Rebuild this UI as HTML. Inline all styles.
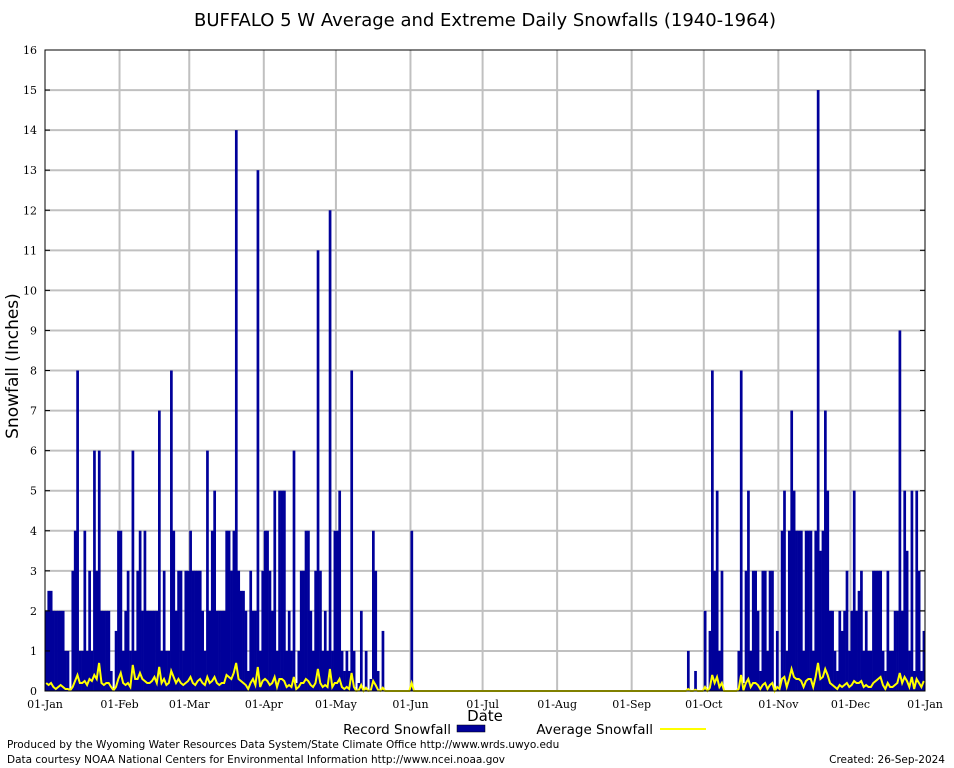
<!DOCTYPE html>
<html><head><meta charset="utf-8">
<style>
body{margin:0;background:#fff;}
svg{display:block;font-family:"DejaVu Sans","Liberation Sans",sans-serif;}
.tk{font-family:"DejaVu Serif","Liberation Serif",serif;}
</style></head>
<body>
<svg id="chart" width="954" height="768" viewBox="0 0 954 768" xmlns="http://www.w3.org/2000/svg">
<rect width="954" height="768" fill="#fff"/>
<text x="485" y="26" font-size="18" text-anchor="middle">BUFFALO 5 W Average and Extreme Daily Snowfalls (1940-1964)</text>
<g id="grid"></g>
<g id="bars"></g>
<g id="avgline"></g>
<rect x="45" y="50" width="880" height="641" fill="none" stroke="#000" stroke-width="1"/>
<g id="ticks"></g>
<text transform="translate(18,366) rotate(-90)" font-size="17" text-anchor="middle">Snowfall (Inches)</text>
<text x="485" y="721" font-size="15" text-anchor="middle">Date</text>
<g>
<text x="451" y="734" font-size="13.5" text-anchor="end">Record Snowfall</text>
<rect x="457" y="725" width="28" height="7" fill="#00009a" stroke="#000" stroke-width="0.5"/>
<text x="653" y="734" font-size="13.5" text-anchor="end">Average Snowfall</text>
<line x1="660" y1="729" x2="706" y2="729" stroke="#ffff00" stroke-width="2"/>
</g>
<text x="7" y="748" font-size="10.5">Produced by the Wyoming Water Resources Data System/State Climate Office http://www.wrds.uwyo.edu</text>
<text x="7" y="763" font-size="10.5">Data courtesy NOAA National Centers for Environmental Information http://www.ncei.noaa.gov</text>
<text x="945" y="763" font-size="10.5" text-anchor="end">Created:  26-Sep-2024</text>
</svg>
<script>
const monthLabels=["01-Jan","01-Feb","01-Mar","01-Apr","01-May","01-Jun","01-Jul","01-Aug","01-Sep","01-Oct","01-Nov","01-Dec","01-Jan"];
const monthStarts=[0,31,60,91,121,152,182,213,244,274,305,335,366];
const yTicks=[0,1,2,3,4,5,6,7,8,9,10,11,12,13,14,15,16];
const recordSnow=[
2,2.5,2.5,2,2,2,2,2,1,1,0,3,4,8,1,1,4,1,3,1,6,3,6,2,2,2,2,0.5,0,1.5,4,
4,1,2,3,1,6,1,3,4,2,4,2,2,2,2,2,7,1,3,1,1,8,4,2,3,3,1,3,3,
4,3,3,3,3,2,1,6,2,4,5,2,2,2,2,4,4,3,4,14,3,2.5,2.5,2,0.5,3,2,2,13,1,3,
4,4,3,2,5,1,5,5,5,1,2,1,6,0.2,1,3,3,4,4,2,1,3,11,3,1,2,1,12,1,4,
4,5,1,0.5,1,0.5,8,1,0,0.2,2,0,1,0,0.3,4,3,0.5,0,1.5,0,0,0,0,0,0,0,0,0,0,0,
4,0,0,0,0,0,0,0,0,0,0,0,0,0,0,0,0,0,0,0,0,0,0,0,0,0,0,0,0,0,
0,0,0,0,0,0,0,0,0,0,0,0,0,0,0,0,0,0,0,0,0,0,0,0,0,0,0,0,0,0,0,
0,0,0,0,0,0,0,0,0,0,0,0,0,0,0,0,0,0,0,0,0,0,0,0,0,0,0,0,0,0,0,
0,0,0,0,0,0,0,0,0,0,0,0,0,0,0,0,0,0,0,0,0,0,0,1,0,0,0.5,0,0,0,
2,0,1.5,8,3,5,1,3,0,0,0,0,0,0,1,8,0.2,3,5,1,3,3,2,0.5,3,3,1,3,3,0,1.5,
0.1,4,5,1,4,7,5,4,4,4,1,4,4,4,1,4,15,3.5,4,7,5,2,2,1,0.5,2,1.5,2,3,1,
2,5,2,2.5,3,1,2,1,1,3,3,3,3,1,0.5,3,1,1,2,2,9,2,5,3.5,1,5,0.5,5,3,0.5,1.5];
const avgSnow=[
0.2,0.15,0.2,0.1,0.05,0.1,0.15,0.1,0.05,0.05,0.02,0.1,0.25,0.4,0.2,0.2,0.25,0.15,0.3,0.25,0.4,0.3,0.7,0.2,0.15,0.2,0.2,0.1,0.02,0.1,0.3,
0.45,0.2,0.15,0.2,0.1,0.65,0.3,0.3,0.45,0.3,0.25,0.2,0.2,0.25,0.35,0.2,0.6,0.2,0.3,0.15,0.2,0.5,0.35,0.2,0.3,0.2,0.15,0.2,0.25,
0.35,0.2,0.15,0.25,0.3,0.2,0.15,0.35,0.2,0.25,0.35,0.2,0.15,0.2,0.2,0.4,0.35,0.3,0.45,0.7,0.3,0.25,0.2,0.15,0.05,0.2,0.3,0.15,0.6,0.1,0.25,
0.3,0.25,0.15,0.2,0.35,0.1,0.3,0.3,0.25,0.1,0.15,0.1,0.35,0.05,0.1,0.2,0.2,0.3,0.25,0.15,0.1,0.2,0.55,0.2,0.1,0.15,0.1,0.55,0.1,0.2,
0.2,0.3,0.1,0.05,0.1,0.05,0.45,0.1,0,0.02,0.15,0,0.08,0,0.02,0.25,0.15,0.03,0,0.08,0,0,0,0,0,0,0,0,0,0,0,
0.2,0,0,0,0,0,0,0,0,0,0,0,0,0,0,0,0,0,0,0,0,0,0,0,0,0,0,0,0,0,
0,0,0,0,0,0,0,0,0,0,0,0,0,0,0,0,0,0,0,0,0,0,0,0,0,0,0,0,0,0,0,
0,0,0,0,0,0,0,0,0,0,0,0,0,0,0,0,0,0,0,0,0,0,0,0,0,0,0,0,0,0,0,
0,0,0,0,0,0,0,0,0,0,0,0,0,0,0,0,0,0,0,0,0,0,0,0.05,0,0,0.03,0,0,0,
0.1,0,0.08,0.4,0.2,0.35,0.1,0.2,0,0,0,0,0,0,0.05,0.4,0.02,0.2,0.3,0.1,0.2,0.2,0.15,0.05,0.15,0.2,0.05,0.15,0.2,0,0.1,
0.05,0.3,0.35,0.1,0.3,0.55,0.35,0.3,0.3,0.25,0.1,0.25,0.3,0.3,0.1,0.35,0.7,0.3,0.35,0.55,0.4,0.2,0.15,0.1,0.05,0.15,0.1,0.15,0.2,0.1,
0.15,0.25,0.2,0.2,0.25,0.1,0.15,0.1,0.1,0.2,0.25,0.3,0.35,0.15,0.05,0.2,0.1,0.1,0.15,0.2,0.45,0.2,0.35,0.25,0.1,0.35,0.05,0.3,0.2,0.1,0.25];

const NS="http://www.w3.org/2000/svg";
const L=45,R=925,T=50,B=691,NDAYS=366,YMAX=16;
const dw=(R-L)/NDAYS;
function xScale(d){return L+d*dw;}
function yScale(v){return B-(v/YMAX)*(B-T);}
function mk(tag,attrs,parent){const e=document.createElementNS(NS,tag);for(const k in attrs)e.setAttribute(k,attrs[k]);parent.appendChild(e);return e;}
const grid=document.getElementById('grid'),ticks=document.getElementById('ticks'),bars=document.getElementById('bars'),avg=document.getElementById('avgline');
yTicks.forEach(v=>{
  const y=yScale(v);
  if(v>0&&v<YMAX){const g=mk('line',{x1:L,x2:R,y1:y,y2:y,stroke:'#c0c0c0','stroke-width':2},grid);
  
  }
  const t1=mk('line',{x1:L,x2:L+5,y1:y,y2:y,stroke:'#000'},ticks);
  
  
  const t2=mk('line',{x1:R-5,x2:R,y1:y,y2:y,stroke:'#000'},ticks);
  
  
  const lb=mk('text',{x:L-8,y:y+4,'font-size':11,'text-anchor':'end','class':'tk'},ticks);
  lb.textContent=v;
  
  
});
monthStarts.forEach((d,i)=>{
  const x=xScale(d);
  if(i>0&&i<12){const g=mk('line',{x1:x,x2:x,y1:T,y2:B,stroke:'#c0c0c0','stroke-width':2},grid);
  
  }
  const lb=mk('text',{x:x,y:708,'font-size':11,'text-anchor':'middle','class':'tk'},ticks);
  lb.textContent=monthLabels[i];
  
  
});
recordSnow.forEach((v,d)=>{
  if(v<=0)return;
  const y=yScale(v);
  const r=mk('rect',{x:xScale(d),y:y,width:dw+0.3,height:B-y,fill:'#00009a'},bars);
  
  
});
const pts=avgSnow.map((v,d)=>xScale(d+0.5).toFixed(2)+','+yScale(v).toFixed(2)).join(' ');
const pl=mk('polyline',{points:pts,fill:'none',stroke:'#ffff00','stroke-width':2},avg);


</script>
</body></html>
